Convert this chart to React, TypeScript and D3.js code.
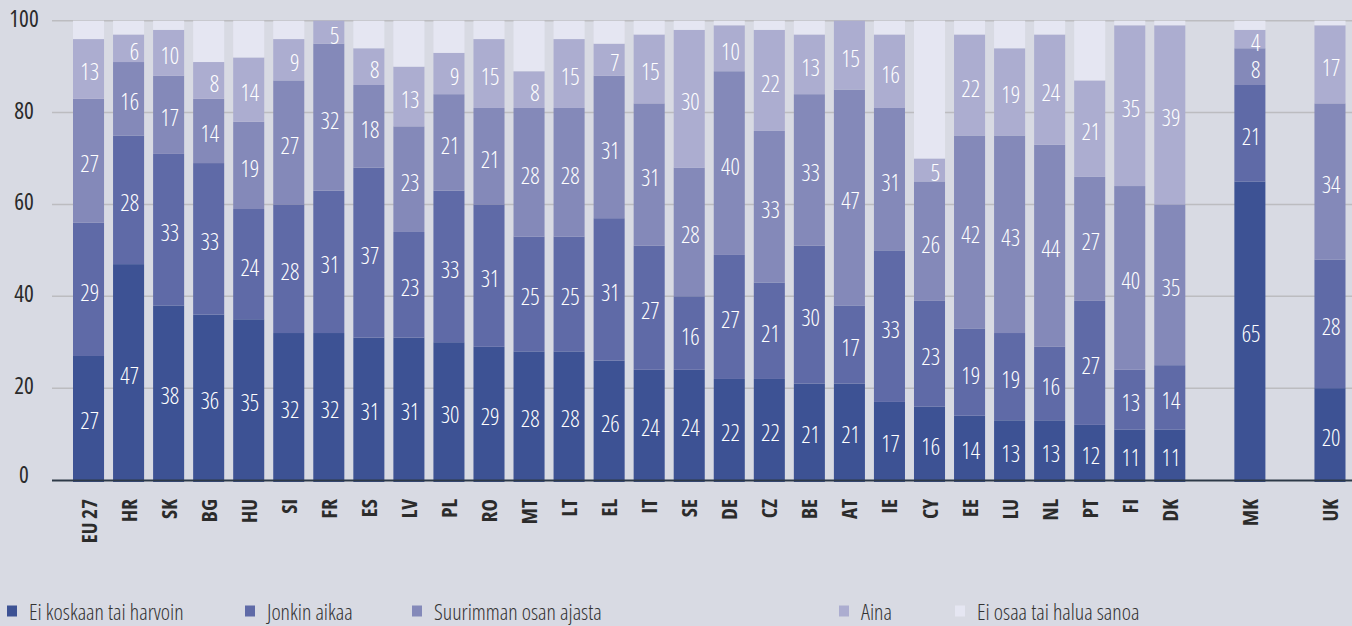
import React, { useEffect } from "react";
import * as d3 from "d3";

const categories = ["EU 27","HR","SK","BG","HU","SI","FR","ES","LV","PL","RO","MT","LT","EL","IT","SE","DE","CZ","BE","AT","IE","CY","EE","LU","NL","PT","FI","DK","MK","UK"];
const neverRarely = [27,47,38,36,35,32,32,31,31,30,29,28,28,26,24,24,22,22,21,21,17,16,14,13,13,12,11,11,65,20];
const someTime = [29,28,33,33,24,28,31,37,23,33,31,25,25,31,27,16,27,21,30,17,33,23,19,19,16,27,13,14,21,28];
const mostTime = [27,16,17,14,19,27,32,18,23,21,21,28,28,31,31,28,40,33,33,47,31,26,42,43,44,27,40,35,8,34];
const always = [13,6,10,8,14,9,5,8,13,9,15,8,15,7,15,30,10,22,13,15,16,5,22,19,24,21,35,39,4,17];
const seriesNames = ["Ei koskaan tai harvoin","Jonkin aikaa","Suurimman osan ajasta","Aina","Ei osaa tai halua sanoa"];
const yTicks = [0,20,40,60,80,100];

const colors = ["#3d5294","#5f6aa7","#8489b9","#acadd0","#e5e6f2"];
const keys = ["a","b","c","d","e"];
// slots: gap after DK, gap between MK and UK
const slots = [...categories.slice(0,28), "_gap1", "MK", "_gap2", "UK"];
const legendX = [7, 245, 412, 839, 955];

const FONT = "'Open Sans', 'Noto Sans', sans-serif";

export default function App() {
  useEffect(() => {
    document.body.style.margin = "0";
    document.body.style.background = "#d8dae3";
  }, []);
  const W = 1352, H = 626;
  const rows = categories.map((c, i) => {
    const vals = [neverRarely[i], someTime[i], mostTime[i], always[i]];
    const rest = Math.max(0, 100 - d3.sum(vals));
    return { cat: c, a: vals[0], b: vals[1], c: vals[2], d: vals[3], e: rest };
  });
  const stacked = d3.stack<any>().keys(keys)(rows);
  const x = d3.scaleBand<string>().domain(slots).range([68.5, 1350]).paddingInner(0.225).paddingOuter(0.1125);
  const y = d3.scaleLinear().domain([0, 100]).range([480, 20.7]);
  const bw = x.bandwidth();

  return (
    <svg width={W} height={H} style={{ display: "block", background: "#d8dae3" }} fontFamily={FONT}>
      <rect x={0} y={0} width={W} height={H} fill="#d8dae3" />
      {yTicks.filter(t => t > 0).map(t => (
        <line key={"g"+t} x1={52} x2={W} y1={y(t)} y2={y(t)} stroke="#bcbcc0" strokeWidth={1.5} />
      ))}
      {yTicks.map(t => (
        <text key={"t"+t} x={24} y={y(t) - (t === 0 ? 6 : 3)} textAnchor="middle" dominantBaseline="central"
          fontSize={23} fill="#2b2b2b" style={{ fontStretch: "82%" }}>{t}</text>
      ))}
      {stacked.map((s, si) => (
        <g key={s.key} fill={colors[si]}>
          {s.map((d, i) => (
            <rect key={i} x={x(rows[i].cat)} y={y(d[1])} width={bw}
              height={y(d[0]) - y(d[1]) + (si === 0 ? 2 : 0)} />
          ))}
        </g>
      ))}
      {stacked.slice(0, 4).map((s, si) => (
        <g key={"l"+s.key}>
          {s.map((d, i) => (
            <text key={i} x={(x(rows[i].cat) as number) + bw / 2 + 10.5} y={y((d[0] + d[1]) / 2) + 2.5}
              textAnchor="end" dominantBaseline="central" fontSize={23} fontWeight={350} fill="#ffffff"
              style={{ fontStretch: "78%" }}>{d[1] - d[0]}</text>
          ))}
        </g>
      ))}
      <line x1={52} x2={W} y1={480.5} y2={480.5} stroke="#2e3a48" strokeWidth={2} />
      {categories.map(c => (
        <text key={"x"+c} transform={`translate(${(x(c) as number) + bw / 2},499) rotate(-90)`}
          textAnchor="end" dominantBaseline="central" fontSize={21} fontWeight={700} fill="#2b2b2b"
          style={{ fontStretch: "condensed" }}>{c}</text>
      ))}
      {seriesNames.map((n, i) => (
        <g key={"lg"+i}>
          <rect x={legendX[i]} y={605.5} width={10} height={11} fill={colors[i]} />
          <text x={legendX[i] + 22} y={611} dominantBaseline="central" fontSize={22} fontWeight={300}
            fill="#333" style={{ fontStretch: "81%" }}>{n}</text>
        </g>
      ))}
    </svg>
  );
}
